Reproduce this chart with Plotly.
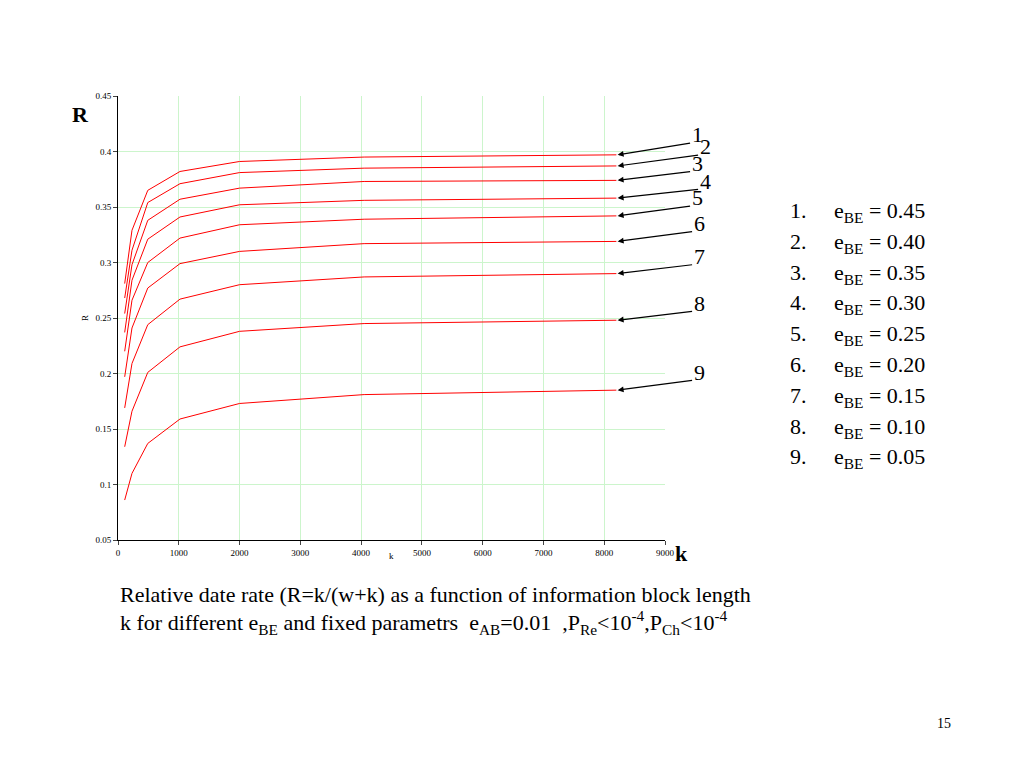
import plotly.graph_objects as go

# block length k
k = [110, 230, 490, 1020, 2000, 4050, 8200]

# relative rate R for each e_BE curve (1..9)
r1 = [0.281, 0.329, 0.365, 0.382, 0.391, 0.395, 0.397]
r2 = [0.268, 0.311, 0.354, 0.371, 0.381, 0.385, 0.387]
r3 = [0.254, 0.298, 0.338, 0.357, 0.367, 0.373, 0.374]
r4 = [0.237, 0.284, 0.321, 0.341, 0.352, 0.356, 0.358]
r5 = [0.220, 0.266, 0.300, 0.322, 0.334, 0.339, 0.342]
r6 = [0.197, 0.241, 0.277, 0.299, 0.310, 0.317, 0.319]
r7 = [0.169, 0.209, 0.244, 0.267, 0.280, 0.287, 0.290]
r8 = [0.134, 0.166, 0.201, 0.224, 0.238, 0.245, 0.248]
r9 = [0.086, 0.110, 0.137, 0.159, 0.173, 0.181, 0.185]
curves = [r1, r2, r3, r4, r5, r6, r7, r8, r9]

e_be = ["0.45", "0.40", "0.35", "0.30", "0.25", "0.20", "0.15", "0.10", "0.05"]

# label offsets (pixels) for the numbered arrows
label_dx = [74, 82, 74, 82, 74, 76, 76, 76, 76]
label_dy = [-12, -11, -9, -9, -10, -10, -9, -9, -10]

OFF = 8  # default page body margin
L, R, T, B = 118, 665, 96, 540
W, H = 1024 - 2 * OFF, 768 - 2 * OFF
SERIF = "Liberation Serif, Times New Roman, serif"


def px(x):
    return (x - L) / (R - L)


def py(y):
    return (B - y) / (B - T)


def f(size):
    return dict(family=SERIF, size=size, color="black")


fig = go.Figure()
for c in curves:
    fig.add_trace(go.Scatter(x=k, y=c, mode="lines",
                             line=dict(color="red", width=1), showlegend=False))

ann = []
for i, c in enumerate(curves):
    ann.append(dict(x=k[-1] + 20, y=c[-1], xref="x", yref="y",
                    ax=label_dx[i], ay=label_dy[i], text="",
                    showarrow=True, arrowhead=2, arrowsize=1, arrowwidth=1.2,
                    arrowcolor="black", standoff=0))
    ann.append(dict(x=k[-1] + 20, y=c[-1], xref="x", yref="y",
                    ax=label_dx[i] + 6, ay=label_dy[i] - 8,
                    text=str(i + 1), showarrow=True, arrowcolor="rgba(0,0,0,0)",
                    font=f(22)))
    ann.append(dict(x=px(788), y=py(212 + i * 30.8), xref="paper", yref="paper",
                    xanchor="left", yanchor="middle", showarrow=False,
                    text=f"{i + 1}.&nbsp;&nbsp;&nbsp;&nbsp;&nbsp;e<sub>BE</sub> = {e_be[i]}",
                    font=f(22)))

ann += [
    dict(x=px(70), y=py(100), xref="paper", yref="paper", text="<b>R</b>",
         showarrow=False, font=f(22)),
    dict(x=px(690), y=py(568), xref="paper", yref="paper", text="<b>k</b>",
         showarrow=False, font=f(22)),
    dict(x=px(78), y=py(318), xref="paper", yref="paper", text="R", textangle=-90,
         showarrow=False, font=f(9)),
    dict(x=px(391), y=py(563), xref="paper", yref="paper", text="k",
         showarrow=False, font=f(9)),
    dict(x=px(118), y=py(609), xref="paper", yref="paper", xanchor="left",
         text="Relative date rate (R=k/(w+k) as a function of information block length",
         showarrow=False, font=f(22)),
    dict(x=px(118), y=py(640), xref="paper", yref="paper", xanchor="left",
         text="k for different e<sub>BE</sub> and fixed parametrs  e<sub>AB</sub>=0.01  ,P<sub>Re</sub>&lt;10<sup>-4</sup>,P<sub>Ch</sub>&lt;10<sup>-4</sup>",
         showarrow=False, font=f(22)),
    dict(x=px(953), y=py(733), xref="paper", yref="paper", text="15",
         showarrow=False, font=f(14)),
]

fig.update_layout(
    width=W, height=H,
    margin=dict(l=L - OFF, r=1024 - OFF - R, t=T - OFF, b=768 - OFF - B),
    plot_bgcolor="white", paper_bgcolor="white",
    font=dict(family=SERIF, color="black"),
    annotations=ann,
)
fig.update_xaxes(range=[0, 9000], dtick=1000, showgrid=True, gridcolor="#ccf5cc",
                 showline=True, linecolor="black", linewidth=1, ticks="outside",
                 ticklen=4, tickfont=f(9), zeroline=False)
fig.update_yaxes(range=[0.05, 0.45], dtick=0.05, showgrid=True, gridcolor="#ccf5cc",
                 showline=True, linecolor="black", linewidth=1, ticks="outside",
                 ticklen=4, tickfont=f(9), zeroline=False)

fig.write_html("out.html")
